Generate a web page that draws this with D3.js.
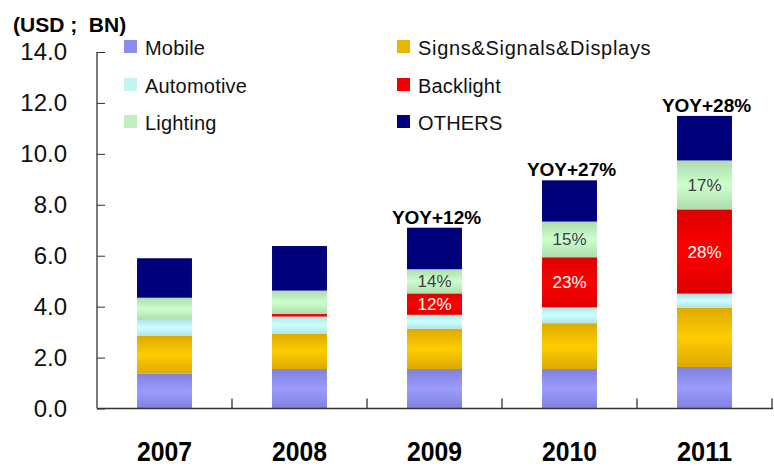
<!DOCTYPE html>
<html>
<head>
<meta charset="utf-8">
<script src="https://cdn.jsdelivr.net/npm/d3@7"></script>
<style>
  body { margin: 0; background: #fff; }
  svg { display: block; font-family: 'Liberation Sans', Arial, sans-serif; }
</style>
</head>
<body>
<svg id="chart" width="774" height="470"></svg>
<script>
const years = ['2007', '2008', '2009', '2010', '2011']
// stacked bottom -> top
const mobile = [1.37, 1.55, 1.55, 1.55, 1.63]
const signs = [1.49, 1.39, 1.58, 1.80, 2.33]
const automotive = [0.62, 0.67, 0.55, 0.62, 0.55]
const backlight = [0.00, 0.10, 0.84, 1.97, 3.31]
const lighting = [0.87, 0.92, 0.95, 1.40, 1.92]
const others = [1.55, 1.75, 1.63, 1.62, 1.75]
const backlightPct = ['', '', '12%', '23%', '28%']
const lightingPct = ['', '', '14%', '15%', '17%']
const yoyLabels = ['', '', 'YOY+12%', 'YOY+27%', 'YOY+28%']
const yTicks = [0, 2, 4, 6, 8, 10, 12, 14]

const series = [
  { key: 'mobile', name: 'Mobile', values: mobile, light: '#9c9cff', dark: '#8080dd', swatch: '#8c8cec' },
  { key: 'signs', name: 'Signs&Signals&Displays', values: signs, light: '#ffcc00', dark: '#dcaa00', swatch: '#e8b800' },
  { key: 'auto', name: 'Automotive', values: automotive, light: '#ccffff', dark: '#b0e4e4', swatch: '#c4f4f4' },
  { key: 'back', name: 'Backlight', values: backlight, light: '#ff0000', dark: '#dd0000', swatch: '#f00000' },
  { key: 'light', name: 'Lighting', values: lighting, light: '#ccffcc', dark: '#aedcae', swatch: '#c0eec0' },
  { key: 'others', name: 'OTHERS', values: others, light: '#000080', dark: '#000078', swatch: '#000080' }
]

const svg = d3.select('#chart')
const x = d3.scaleBand().domain(years).range([97, 772]).paddingInner(0.593).paddingOuter(0.2965)
const y = d3.scaleLinear().domain([0, 14]).range([408.5, 52])

// gradients, darker at segment edges
const defs = svg.append('defs')
series.forEach(s => {
  const g = defs.append('linearGradient').attr('id', 'g-' + s.key)
    .attr('x1', 0).attr('y1', 0).attr('x2', 0).attr('y2', 1)
  g.append('stop').attr('offset', '0%').attr('stop-color', s.dark)
  g.append('stop').attr('offset', '50%').attr('stop-color', s.light)
  g.append('stop').attr('offset', '100%').attr('stop-color', s.dark)
})

// stack
const rows = years.map((yr, i) => {
  const r = { year: yr }
  series.forEach(s => { r[s.key] = s.values[i] })
  return r
})
const stacked = d3.stack().keys(series.map(s => s.key))(rows)

svg.append('g').selectAll('g').data(stacked).join('g')
  .attr('fill', d => `url(#g-${d.key})`)
  .selectAll('rect').data(d => d).join('rect')
  .attr('x', d => x(d.data.year))
  .attr('width', x.bandwidth())
  .attr('y', d => y(d[1]))
  .attr('height', d => y(d[0]) - y(d[1]))

// percentage labels inside segments
const backLayer = stacked[3]
const lightLayer = stacked[4]
const pctG = svg.append('g').attr('font-size', 17).attr('text-anchor', 'middle')
pctG.selectAll('.pb').data(backLayer).join('text')
  .attr('x', d => x(d.data.year) + x.bandwidth() / 2)
  .attr('y', d => (y(d[0]) + y(d[1])) / 2 + 6)
  .attr('fill', '#fff')
  .text((d, i) => backlightPct[i])
pctG.selectAll('.pl').data(lightLayer).join('text')
  .attr('x', d => x(d.data.year) + x.bandwidth() / 2)
  .attr('y', d => (y(d[0]) + y(d[1])) / 2 + 6)
  .attr('fill', '#404040')
  .text((d, i) => lightingPct[i])

// YOY labels above bars
const topLayer = stacked[stacked.length - 1]
svg.append('g').attr('font-size', 19).attr('font-weight', 'bold').attr('text-anchor', 'middle')
  .selectAll('text').data(topLayer).join('text')
  .attr('x', d => x(d.data.year) + x.bandwidth() / 2 + 2)
  .attr('y', d => y(d[1]) - 4)
  .attr('fill', '#000')
  .text((d, i) => yoyLabels[i])

// y axis, inward ticks
const yAxis = svg.append('g').attr('transform', 'translate(97,0)')
  .call(d3.axisLeft(y).tickValues(yTicks).tickFormat(d3.format('.1f')).tickSize(-8).tickPadding(30))
yAxis.select('.domain').attr('stroke', '#333').attr('stroke-width', 1.3).attr('d', `M0,${y(14)}V${y(0)}`)
yAxis.selectAll('.tick line').attr('stroke', '#333')
yAxis.selectAll('.tick text').attr('font-size', 24).attr('font-family', "'Liberation Sans', Arial, sans-serif").attr('fill', '#111')

// x axis: baseline with separator ticks between categories
const step = x.step()
const bounds = years.map(yr => x(yr) - (step - x.bandwidth()) / 2 + step)
const xAxis = svg.append('g')
xAxis.append('line').attr('x1', 97).attr('x2', 773).attr('y1', y(0)).attr('y2', y(0))
  .attr('stroke', '#333').attr('stroke-width', 1.5)
xAxis.selectAll('.sep').data(bounds).join('line')
  .attr('x1', d => d).attr('x2', d => d)
  .attr('y1', y(0)).attr('y2', y(0) - 10)
  .attr('stroke', '#333').attr('stroke-width', 1.3)
xAxis.selectAll('text').data(years).join('text')
  .attr('x', d => x(d) + x.bandwidth() / 2)
  .attr('y', 460.5)
  .attr('text-anchor', 'middle')
  .attr('font-size', 28).attr('font-weight', 'bold')
  .attr('textLength', 55).attr('lengthAdjust', 'spacingAndGlyphs')
  .text(d => d)

// unit title
svg.append('text').attr('x', 13).attr('y', 32)
  .attr('font-size', 21).attr('font-weight', 'bold')
  .style('white-space', 'pre')
  .text('(USD ;  BN)')

// legend
const legendPos = {
  mobile: [124, 47], auto: [124, 85], light: [124, 122],
  signs: [397, 47], back: [397, 85], others: [397, 122]
}
const legend = svg.append('g').selectAll('g').data(series).join('g')
  .attr('transform', d => `translate(${legendPos[d.key][0]},${legendPos[d.key][1]})`)
legend.append('rect').attr('x', 0).attr('y', -7).attr('width', 13).attr('height', 13)
  .attr('fill', d => d.swatch)
legend.append('text').attr('x', 21).attr('y', 7.5)
  .attr('font-size', 20).attr('fill', '#111')
  .attr('letter-spacing', d => d.key === 'signs' ? 0.7 : 0.2)
  .text(d => d.name)
</script>
</body>
</html>
